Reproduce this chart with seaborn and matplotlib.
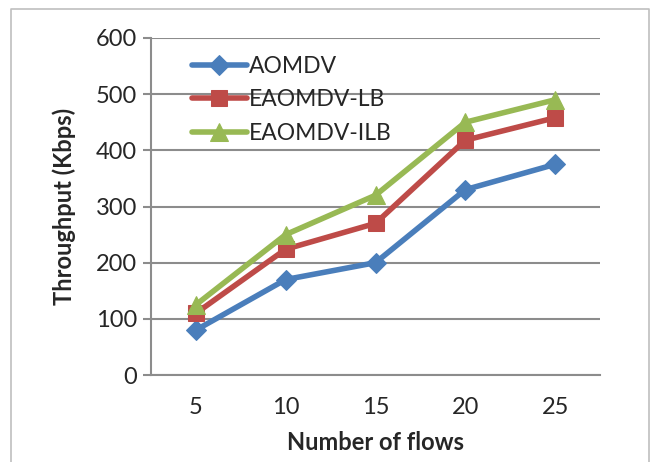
import pandas as pd
import matplotlib
matplotlib.use("Agg")
import matplotlib.pyplot as plt
import seaborn as sns
from matplotlib.lines import Line2D

flows = ["5", "10", "15", "20", "25"]
aomdv = [80, 170, 200, 330, 375]
eaomdv_lb = [110, 224, 270, 418, 458]
eaomdv_ilb = [125, 250, 320, 450, 490]

series = ["AOMDV", "EAOMDV-LB", "EAOMDV-ILB"]
colors = ["#4A7EBB", "#BE4B48", "#98B954"]
marks = ["D", "s", "^"]
msizes = [10, 12, 13]

df = pd.DataFrame({
    "flows": flows * 3,
    "throughput": aomdv + eaomdv_lb + eaomdv_ilb,
    "protocol": [s for s in series for _ in flows],
})

sns.set_style("white")
plt.rcParams["font.family"] = ["Lato", "DejaVu Sans"]

fig = plt.figure(figsize=(6.52, 4.62), dpi=100)
ax = fig.add_axes([151 / 652, 1 - 375 / 462, 449 / 652, 337 / 462])

for s, c, m, ms in zip(series, colors, marks, msizes):
    sub = df[df["protocol"] == s]
    sns.lineplot(data=sub, x="flows", y="throughput", ax=ax, color=c,
                 marker=m, markersize=ms, markeredgecolor=c, linewidth=4,
                 label=s, sort=False)

ax.set_xlim(-0.5, 4.5)
ax.set_ylim(0, 600)
ax.set_yticks(range(0, 601, 100))
ax.yaxis.grid(True, color="#8C8C8C", linewidth=1.5)
ax.set_axisbelow(True)
for side in ["top", "right"]:
    ax.spines[side].set_visible(False)
ax.spines["left"].set_color("#8C8C8C")
ax.spines["left"].set_linewidth(1.5)
ax.spines["bottom"].set_color("#8C8C8C")
ax.spines["bottom"].set_linewidth(1.5)
ax.tick_params(axis="y", left=True, length=6, width=1.5, color="#8C8C8C",
               labelsize=17, pad=4)
ax.tick_params(axis="x", bottom=False, labelsize=17, pad=12)

ax.set_xlabel("Number of flows", fontsize=17, fontweight="bold", labelpad=10)
ax.set_ylabel("Throughput (Kbps)", fontsize=17, fontweight="bold", labelpad=14)

leg = ax.legend(loc="upper left", bbox_to_anchor=(0.07, 0.975), frameon=False,
                fontsize=16.5, handlelength=2.4, handletextpad=0.1,
                labelspacing=0.55, borderaxespad=0)

# outer chart border (Excel style)
bc = "#BFBFBF"
x0, x1, y1 = 11 / 652, 649 / 652, 1 - 9 / 462
fig.add_artist(Line2D([x0, x0, x1, x1], [0, y1, y1, 0], color=bc,
                      linewidth=1.2, transform=fig.transFigure))

fig.savefig("out.png", dpi=100)
